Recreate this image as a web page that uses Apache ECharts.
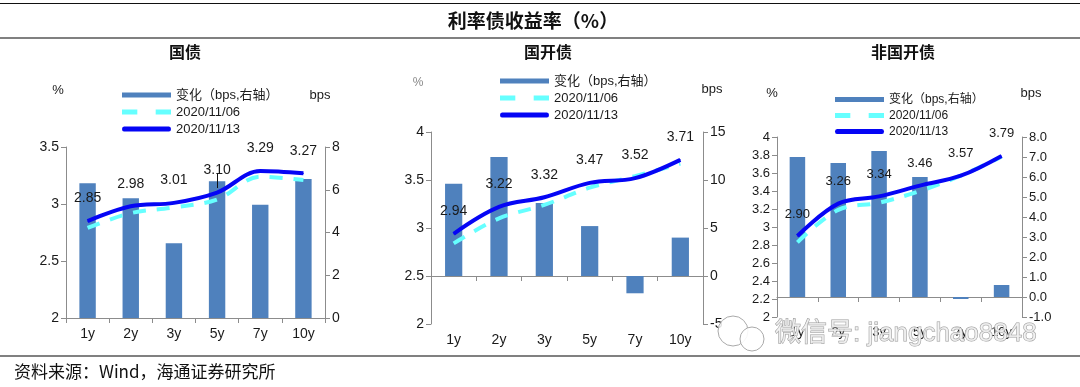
<!DOCTYPE html>
<html>
<head>
<meta charset="utf-8">
<script src="https://cdn.jsdelivr.net/npm/echarts@6/dist/echarts.min.js"></script>
<style>
html,body{margin:0;padding:0;background:#fff;}
#chart{width:1080px;height:387px;}
</style>
</head>
<body>
<div id="chart"></div>
<script>
const categories = ['1y', '2y', '3y', '5y', '7y', '10y'];

const govChange = [6.3, 5.6, 3.5, 6.4, 5.3, 6.5];
const gov1106 = [2.79, 2.92, 2.97, 3.04, 3.24, 3.21];
const gov1113 = [2.85, 2.98, 3.01, 3.10, 3.29, 3.27];

const cdbChange = [9.6, 12.4, 7.6, 5.2, -1.8, 4.0];
const cdb1106 = [2.84, 3.10, 3.24, 3.42, 3.54, 3.67];
const cdb1113 = [2.94, 3.22, 3.32, 3.47, 3.52, 3.71];

const nonChange = [7.0, 6.7, 7.3, 6.0, -0.1, 0.6];
const non1106 = [2.83, 3.19, 3.27, 3.40, 3.57, 3.78];
const non1113 = [2.90, 3.26, 3.34, 3.46, 3.57, 3.79];

const panelTitles = ['国债', '国开债', '非国开债'];
const legendNames = ['变化（bps,右轴）', '2020/11/06', '2020/11/13'];
const mainTitle = '利率债收益率（%）';
const sourceText = '资料来源：Wind，海通证券研究所';
const watermark = '微信号: jiangchao8848';

const FONT = 'Liberation Sans, Arial, Noto Sans CJK SC, sans-serif';
const CJK = 'Noto Sans CJK SC, sans-serif';
const AX = '#8c8c8c';
const TXT = '#1a1a1a';

const chart = echarts.init(document.getElementById('chart'), null, {renderer: 'canvas'});

const grids = [
  {left: 66, top: 147, width: 259, height: 171},
  {left: 431, top: 132, width: 272, height: 192},
  {left: 777, top: 137, width: 245, height: 180}
];

function xAxis(i, fs) {
  return {
    type: 'category', gridIndex: i, data: categories,
    axisLine: {lineStyle: {color: AX, width: 1}},
    axisTick: {show: true, alignWithLabel: false, length: 5, lineStyle: {color: AX}},
    axisLabel: {color: TXT, fontSize: fs, fontFamily: FONT, margin: 9}
  };
}
function yAxis(i, pos, min, max, interval, fs, fmt) {
  return {
    type: 'value', gridIndex: i, position: pos, min: min, max: max, interval: interval,
    splitLine: {show: false},
    axisLine: {show: true, lineStyle: {color: AX, width: 1}},
    axisTick: {show: true, length: 5, lineStyle: {color: AX}},
    axisLabel: {color: TXT, fontSize: fs, fontFamily: FONT, margin: 7, formatter: fmt}
  };
}

const barColor = '#4f81bd';
const dashColor = '#66ffff';
const solidColor = '#0505f5';

function panelSeries(i, change, d1106, d1113, fs) {
  return [
    {
      name: legendNames[0], type: 'bar', xAxisIndex: i, yAxisIndex: i * 2 + 1,
      data: change, barWidth: '38%', itemStyle: {color: barColor}, z: 1
    },
    {
      name: legendNames[1], type: 'line', xAxisIndex: i, yAxisIndex: i * 2,
      data: d1106, smooth: 0.35, symbol: 'none', showSymbol: false,
      lineStyle: {color: dashColor, width: 4, type: [13, 11]}, itemStyle: {color: dashColor}, z: 2
    },
    {
      name: legendNames[2], type: 'line', xAxisIndex: i, yAxisIndex: i * 2,
      data: d1113, smooth: 0.35, symbol: 'circle', symbolSize: 1, showSymbol: true,
      lineStyle: {color: solidColor, width: 4}, itemStyle: {color: solidColor}, z: 3,
      label: {show: true, position: 'top', distance: 15, color: TXT, fontSize: fs, fontFamily: FONT,
        formatter: p => Number(p.value).toFixed(2)}
    }
  ];
}

const ICON_DASH = 'path://M0,0h15v4h-15zM33,0h15v4h-15z';
const ICON_SOLID = 'path://M2,0h44a2,2 0 0 1 0,4h-44a2,2 0 0 1 0,-4z';

function legend(left, top, fs, lh) {
  return {
    data: [
      {name: legendNames[0], icon: 'rect'},
      {name: legendNames[1], icon: ICON_DASH},
      {name: legendNames[2], icon: ICON_SOLID}
    ],
    orient: 'vertical', left: left, top: top,
    itemWidth: 49, itemHeight: 5, itemGap: 3, selectedMode: false,
    symbolKeepAspect: false,
    textStyle: {color: TXT, fontSize: fs, fontFamily: FONT, lineHeight: lh}
  };
}

const option = {
  animation: false,
  backgroundColor: '#fff',
  grid: grids,
  xAxis: [xAxis(0, 14), xAxis(1, 14), xAxis(2, 13)],
  yAxis: [
    yAxis(0, 'left', 2, 3.5, 0.5, 14),
    yAxis(0, 'right', 0, 8, 2, 14),
    yAxis(1, 'left', 2, 4, 0.5, 14),
    yAxis(1, 'right', -5, 15, 5, 14),
    yAxis(2, 'left', 2, 4, 0.2, 13, v => Number(v.toFixed(1)).toString()),
    yAxis(2, 'right', -1, 8, 1, 13, v => v.toFixed(1))
  ],
  legend: [legend(117, 83, 13, 14), legend(495, 69, 13, 14), legend(830, 88, 12, 13)],
  series: [].concat(
    panelSeries(0, govChange, gov1106, gov1113, 14),
    panelSeries(1, cdbChange, cdb1106, cdb1113, 14),
    panelSeries(2, nonChange, non1106, non1113, 13)
  ),
  graphic: [
    {type: 'line', shape: {x1: 0, y1: 3.5, x2: 1080, y2: 3.5}, style: {stroke: '#111', lineWidth: 1}},
    {type: 'line', shape: {x1: 0, y1: 38, x2: 1080, y2: 38}, style: {stroke: '#808080', lineWidth: 2}},
    {type: 'line', shape: {x1: 0, y1: 356, x2: 1080, y2: 356}, style: {stroke: '#808080', lineWidth: 2}},
    {type: 'text', x: 533, y: 21, style: {text: mainTitle, font: 'bold 19px ' + CJK, fill: '#111', align: 'center', verticalAlign: 'middle'}},
    {type: 'text', x: 185, y: 52, style: {text: panelTitles[0], font: 'bold 16px ' + CJK, fill: '#111', align: 'center', verticalAlign: 'middle'}},
    {type: 'text', x: 548, y: 52, style: {text: panelTitles[1], font: 'bold 16px ' + CJK, fill: '#111', align: 'center', verticalAlign: 'middle'}},
    {type: 'text', x: 903, y: 52, style: {text: panelTitles[2], font: 'bold 16px ' + CJK, fill: '#111', align: 'center', verticalAlign: 'middle'}},
    {type: 'text', x: 58, y: 90, style: {text: '%', font: '13px ' + FONT, fill: TXT, align: 'center', verticalAlign: 'middle'}},
    {type: 'text', x: 320, y: 95, style: {text: 'bps', font: '13px ' + FONT, fill: TXT, align: 'center', verticalAlign: 'middle'}},
    {type: 'text', x: 418, y: 83, style: {text: '%', font: '12px ' + FONT, fill: '#888', align: 'center', verticalAlign: 'middle'}},
    {type: 'text', x: 712, y: 89, style: {text: 'bps', font: '13px ' + FONT, fill: TXT, align: 'center', verticalAlign: 'middle'}},
    {type: 'text', x: 772, y: 93, style: {text: '%', font: '13px ' + FONT, fill: TXT, align: 'center', verticalAlign: 'middle'}},
    {type: 'text', x: 1031, y: 93, style: {text: 'bps', font: '13px ' + FONT, fill: TXT, align: 'center', verticalAlign: 'middle'}},
    {type: 'line', shape: {x1: 217.5, y1: 174, x2: 217.5, y2: 188}, style: {stroke: '#111', lineWidth: 1}, z: 50},
    {type: 'text', x: 14, y: 372, style: {text: sourceText, font: '17px ' + CJK, fill: '#111', align: 'left', verticalAlign: 'middle'}},
    {type: 'circle', shape: {cx: 733, cy: 331, r: 15}, style: {fill: 'rgba(255,255,255,0.85)', stroke: '#aaa', lineWidth: 1}, z: 100},
    {type: 'circle', shape: {cx: 752, cy: 339, r: 12}, style: {fill: 'rgba(255,255,255,0.9)', stroke: '#aaa', lineWidth: 1}, z: 101},
    {type: 'text', x: 775, y: 334, z: 102, style: {text: watermark, font: '26px ' + FONT, fill: 'rgba(240,240,240,0.8)', stroke: '#9a9a9a', lineWidth: 1, align: 'left', verticalAlign: 'middle'}}
  ]
};

chart.setOption(option);
</script>
</body>
</html>
